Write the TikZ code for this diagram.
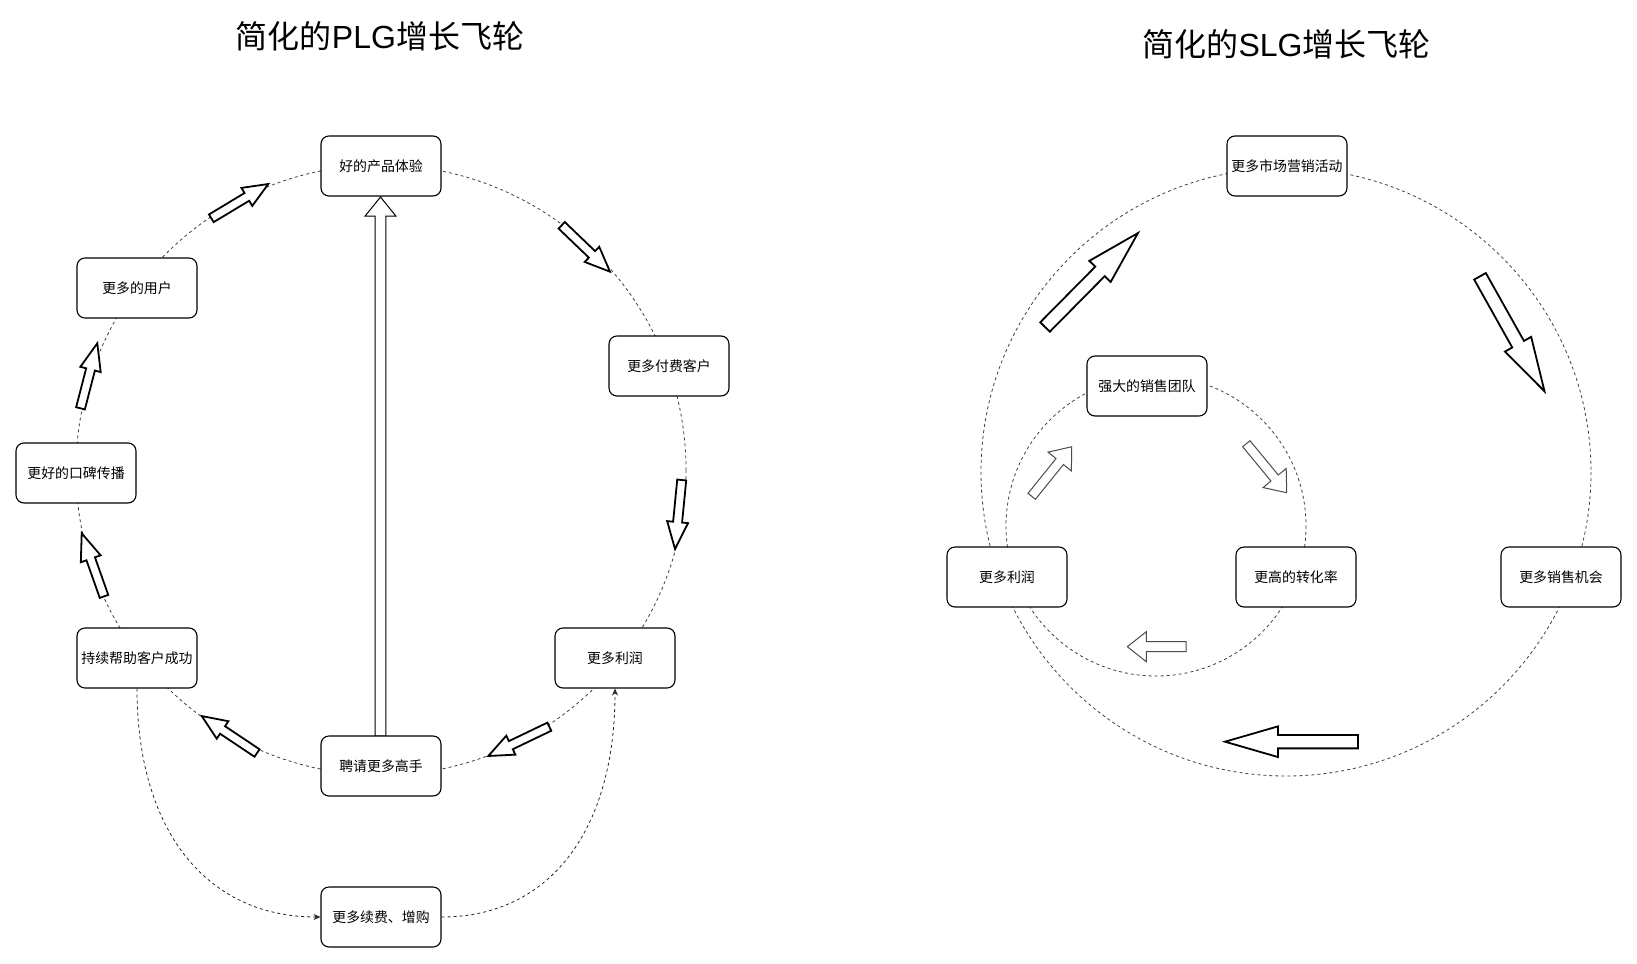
\documentclass[tikz,border=0pt]{standalone}
\usepackage{fontspec}
\setmainfont{Liberation Sans}
\newfontfamily\cjk{Noto Sans CJK SC}
\usetikzlibrary{arrows.meta}

\tikzset{
 box/.style={draw=black, line width=1.1pt, rounded corners=8pt, fill=white, minimum width=120pt, minimum height=60pt, inner sep=0pt, font=\cjk\fontsize{13.9}{16}\selectfont},
 ring/.style={draw=black!75, line width=0.8pt, dash pattern=on 3pt off 3pt},
 dcon/.style={draw=black!85, line width=0.8pt, dash pattern=on 3pt off 3pt, -{Stealth[length=7pt,width=6pt]}},
 heavy/.style={draw=black, line width=1.8pt, fill=white, line join=miter},
 light/.style={draw=black!70, line width=1pt, fill=white, line join=miter},
 slim/.style={draw=black, line width=1pt, fill=white, line join=miter},
 ttl/.style={font=\fontsize{32}{38}\selectfont, inner sep=0pt}
}

% #1 style, #2 #3 tail, #4 #5 tip, #6 shaft width, #7 head width, #8 head length
\newcommand\blockarr[8]{%
  \pgfmathsetmacro\ba{atan2(#3-#5,#4-#2)}%
  \pgfmathsetmacro\bl{veclen(#4-#2,#5-#3)}%
  \pgfmathsetmacro\bs{#6/2}%
  \pgfmathsetmacro\bh{#7/2}%
  \pgfmathsetmacro\bb{\bl-#8}%
  \draw[#1,shift={(#2,#3)},rotate=\ba] (0,-\bs) -- (\bb,-\bs) -- (\bb,-\bh) -- (\bl,0) -- (\bb,\bh) -- (\bb,\bs) -- (0,\bs) -- cycle;
}

\begin{document}
\begin{tikzpicture}[x=1pt,y=-1pt]
\useasboundingbox (0,0) rectangle (1637,963);
\fill[white] (0,0) rectangle (1637,963);

% titles
\node[ttl] (t1) at (380,36) {{\cjk 简化的}PLG{\cjk 增长飞轮}};
\node[ttl] (t2) at (1286.5,44) {{\cjk 简化的}SLG{\cjk 增长飞轮}};

% dashed rings
\draw[ring] (381,470) circle [radius=305];
\draw[ring] (1286,472) ellipse [x radius=305, y radius=304];
\draw[ring] (1156,526) circle [radius=150];

% left block arrows
\blockarr{heavy}{211.3}{218.3}{268.3}{184}{9}{21}{25}
\blockarr{heavy}{561.7}{225.3}{610}{271.7}{9}{21}{25}
\blockarr{heavy}{681.7}{480}{675}{549}{9}{21}{27}
\blockarr{heavy}{549.3}{726.7}{488.3}{756}{9}{21}{25}
\blockarr{heavy}{257}{753}{201.7}{716}{9}{21}{25}
\blockarr{heavy}{104}{596.4}{81.7}{533.3}{9}{21}{27}
\blockarr{heavy}{80.5}{408.3}{97.3}{343.3}{9}{21}{27}
\blockarr{slim}{380.5}{736}{380.5}{197}{10.7}{30.7}{19}

% right block arrows
\blockarr{heavy}{1045}{327}{1138}{233}{13.4}{30}{54}
\blockarr{heavy}{1480}{276.3}{1544.5}{391.3}{13.4}{30}{54}
\blockarr{heavy}{1358}{741.7}{1225}{741.7}{13.3}{30.7}{53}
\blockarr{light}{1031.7}{496.3}{1071.7}{446.7}{9.5}{30}{19}
\blockarr{light}{1246.3}{443.7}{1286.7}{492.7}{9.5}{30}{19}
\blockarr{light}{1186}{646.7}{1127.3}{646.7}{10}{30}{19}

% left boxes
\node[box] (A) at (381,166) {好的产品体验};
\node[box] (B) at (669,366) {更多付费客户};
\node[box] (C) at (615,658) {更多利润};
\node[box] (D) at (381,766) {聘请更多高手};
\node[box] (E) at (137,658) {持续帮助客户成功};
\node[box] (F) at (76,473) {更好的口碑传播};
\node[box] (G) at (137,288) {更多的用户};
\node[box] (H) at (381,917) {更多续费、增购};

% right boxes
\node[box] (P) at (1287,166) {更多市场营销活动};
\node[box] (Q) at (1147,386) {强大的销售团队};
\node[box] (R) at (1007,577) {更多利润};
\node[box] (S) at (1296,577) {更高的转化率};
\node[box] (T) at (1561,577) {更多销售机会};

% dashed connectors
\draw[dcon] (E.south) .. controls +(0,142) and +(-114,0) .. (H.west);
\draw[dcon] (H.east) .. controls +(108,0) and +(0,142) .. (C.south);
\end{tikzpicture}
\end{document}
